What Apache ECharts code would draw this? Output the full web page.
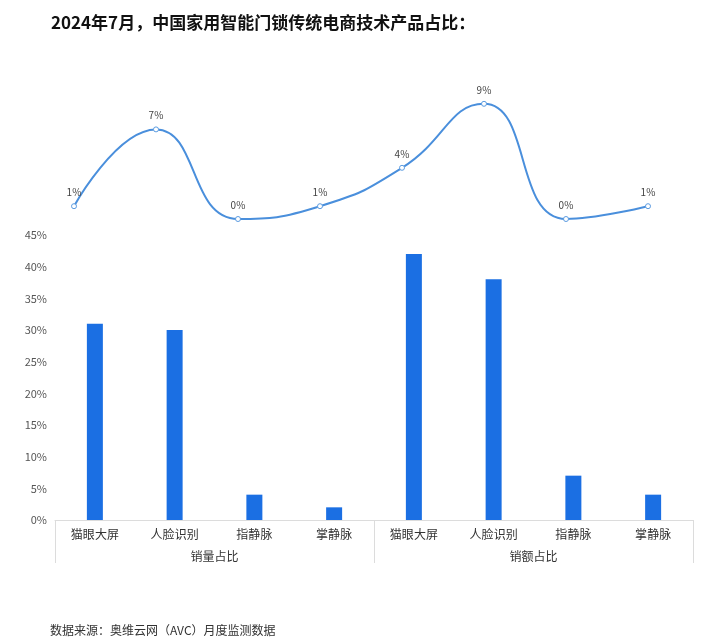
<!DOCTYPE html>
<html><head><meta charset="utf-8">
<script src="https://cdn.jsdelivr.net/npm/echarts@6/dist/echarts.min.js"></script>
<style>html,body{margin:0;padding:0;background:#fff}#c{width:720px;height:643px}</style>
</head><body><div id="c"></div>
<script>
var titleText = '2024年7月，中国家用智能门锁传统电商技术产品占比：';
var sourceText = '数据来源：奥维云网（AVC）月度监测数据';
var categories = ['猫眼大屏','人脸识别','指静脉','掌静脉','猫眼大屏','人脸识别','指静脉','掌静脉'];
var groups = ['销量占比','销额占比'];
var barValues = [31,30,4,2,42,38,7,4];
var lineValues = [1,7,0,1,4,9,0,1];
var yTicks = {min:0,max:45,interval:5};

var chart = echarts.init(document.getElementById('c'));
var font = '"Noto Sans CJK SC","Noto Sans",sans-serif';
chart.setOption({
  animation:false,
  textStyle:{fontFamily:font},
  title:[
    {text:titleText,left:46,top:9,textStyle:{fontSize:17,fontWeight:'bold',color:'#111',fontFamily:font}},
    {text:sourceText,left:45,top:619,textStyle:{fontSize:12,fontWeight:'normal',color:'#333',fontFamily:font}}
  ],
  grid:[
    {left:33,right:31,top:91,height:128},
    {left:55,right:27,top:235,bottom:123}
  ],
  xAxis:[
    {type:'category',gridIndex:0,data:categories,show:false},
    {type:'category',gridIndex:1,data:categories,position:'bottom',
      axisLine:{show:true,lineStyle:{color:'#dcdcdc'}},axisTick:{show:false},
      axisLabel:{color:'#333',fontSize:12,margin:8}},
    {type:'category',gridIndex:1,data:groups,position:'bottom',
      axisLine:{show:false},axisTick:{show:true,length:43,lineStyle:{color:'#dcdcdc'}},
      axisLabel:{color:'#333',fontSize:12,margin:30}}
  ],
  yAxis:[
    {type:'value',gridIndex:0,min:0,max:10,show:false},
    {type:'value',gridIndex:1,min:yTicks.min,max:yTicks.max,interval:yTicks.interval,
      axisLine:{show:false},axisTick:{show:false},splitLine:{show:false},
      axisLabel:{formatter:'{value}%',color:'#555',fontSize:11,margin:8}}
  ],
  series:[
    {type:'line',xAxisIndex:0,yAxisIndex:0,data:lineValues,smooth:true,clip:false,
      symbol:'circle',symbolSize:5,
      itemStyle:{color:'#fff',borderColor:'#5b9be0',borderWidth:1},
      lineStyle:{color:'#4a8fdc',width:2},
      label:{show:true,position:'top',formatter:'{c}%',color:'#444',fontSize:10,distance:6}},
    {type:'bar',xAxisIndex:1,yAxisIndex:1,data:barValues,barWidth:16,
      itemStyle:{color:'#1b6fe3'}}
  ]
});
</script></body></html>
